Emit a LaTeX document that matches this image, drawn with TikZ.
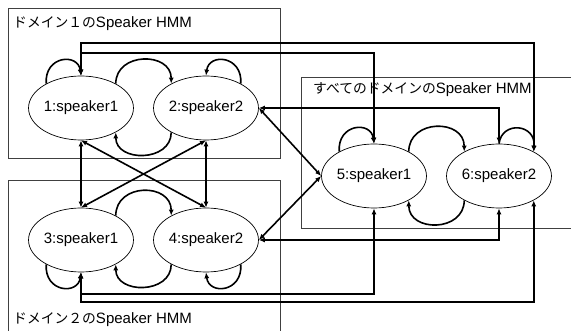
\documentclass[tikz,border=0pt]{standalone}
\usepackage{fontspec}
\setmainfont{Liberation Sans}
\newfontfamily\jp[Scale=0.92]{Noto Sans CJK JP}
\usetikzlibrary{arrows.meta,shapes.geometric}

\begin{document}
\begin{tikzpicture}[x=1pt,y=-1pt,
  state/.style={draw, ellipse, line width=0.7pt, minimum width=94pt, minimum height=64pt,
    inner sep=0pt, fill=white, font=\fontsize{15}{18}\selectfont},
  frame/.style={draw=black!75, line width=0.8pt},
  heading/.style={anchor=base west, inner sep=0pt, font=\fontsize{15}{18}\selectfont},
  link/.style={line width=1.6pt, {Latex[length=6pt,width=5pt]}-{Latex[length=6pt,width=5pt]}},
  self/.style={line width=1.6pt, -{Latex[length=6pt,width=5pt]}},
]
\useasboundingbox (0,0) rectangle (571,331);
\clip (0,0) rectangle (571,331);

% group frames
\draw[frame] (8,8) rectangle (280,158);
\draw[frame] (8,331) -- (8,180) -- (280,180) -- (280,331);
\draw[frame] (571,77) -- (301,77) -- (301,228) -- (571,228);

\node[heading] (h1) at (13,28) {{\jp ドメイン１の}Speaker HMM};
\node[heading] (h2) at (13,324) {{\jp ドメイン２の}Speaker HMM};
\node[heading] (h3) at (313,94) {{\jp すべてのドメインの}Speaker HMM};

% states
\node[state] (n1) at (81,108) {1:speaker1};
\node[state] (n2) at (206,108) {2:speaker2};
\node[state] (n3) at (81,240) {3:speaker1};
\node[state] (n4) at (206,240) {4:speaker2};
\node[state] (n5) at (374,176) {5:speaker1};
\node[state] (n6) at (499,176) {6:speaker2};

% routing levels for the long connectors
\coordinate (topA) at (300,43);
\coordinate (topB) at (300,53);
\coordinate (botB) at (300,294);
\coordinate (botA) at (300,302);

% self transitions
\draw[self] (n1.145) .. controls +(-2,-28) and +(-3,-23) .. (n1.north);
\draw[self] (n2.35) .. controls +(2,-28) and +(3,-23) .. (n2.north);
\draw[self] (n3.215) .. controls +(-2,28) and +(-3,23) .. (n3.south);
\draw[self] (n4.325) .. controls +(2,28) and +(3,23) .. (n4.south);
\draw[self] (n5.145) .. controls +(-2,-28) and +(-3,-23) .. (n5.north);
\draw[self] (n6.north) .. controls +(3,-23) and +(2,-28) .. (n6.35);

% transitions within each group
\draw[self] (n1.35) .. controls +(0,-32) and +(0,-32) .. (n2.145);
\draw[self] (n2.215) .. controls +(0,30) and +(0,30) .. (n1.325);
\draw[self] (n3.35) .. controls +(0,-33) and +(0,-33) .. (n4.145);
\draw[self] (n4.215) .. controls +(0,30) and +(0,30) .. (n3.325);
\draw[self] (n5.35) .. controls +(0,-33) and +(0,-33) .. (n6.145);
\draw[self] (n6.215) .. controls +(0,32) and +(0,32) .. (n5.325);

% transitions between groups
\draw[link] (n1.south) -- (n3.north);
\draw[link] (n2.south) -- (n4.north);
\draw[link] (n1.south) -- (n4.north);
\draw[link] (n2.south) -- (n3.north);
\draw[link] (n2.east) -- (n5.west);
\draw[link] (n4.east) -- (n5.west);
\draw[link] (n2.east) -| (n6.north);
\draw[link] (n4.east) -| (n6.south);
\draw[link] (n1.north) |- (topB -| n5.north) -- (n5.north);
\draw[link] (n1.north) |- (topA -| n6.35) -- (n6.35);
\draw[link] (n3.south) |- (botB -| n5.south) -- (n5.south);
\draw[link] (n3.south) |- (botA -| n6.-35) -- (n6.-35);
\end{tikzpicture}
\end{document}
